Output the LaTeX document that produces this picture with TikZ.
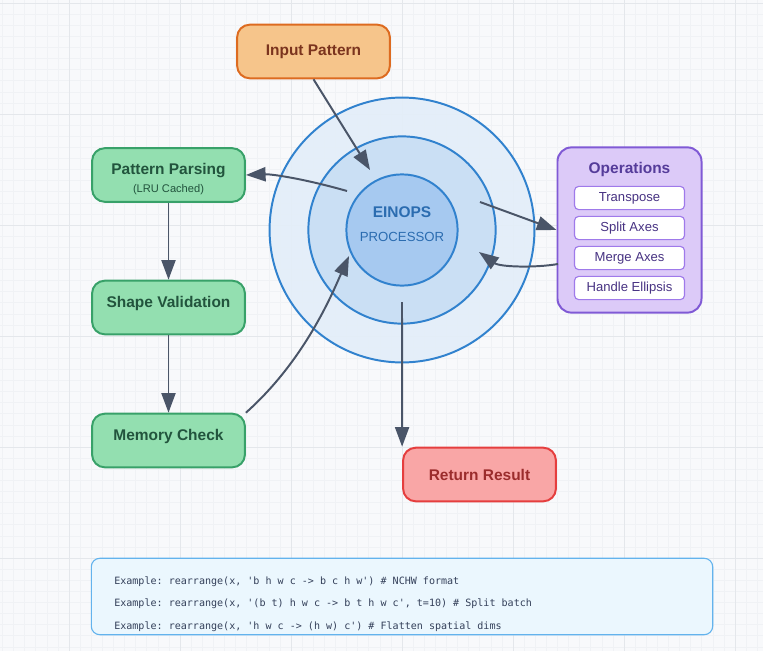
\documentclass[tikz,border=0pt]{standalone}
\usepackage{fontspec}
\setmainfont{Liberation Sans}
\setmonofont{DejaVu Sans Mono}
\usetikzlibrary{arrows.meta, positioning}
\definecolor{bgc}{HTML}{F8F9FB}
\definecolor{gridmin}{HTML}{F0F2F5}
\definecolor{gridmaj}{HTML}{E4E7EB}
\definecolor{or_fill}{HTML}{F6C58B}
\definecolor{or_draw}{HTML}{DD6B20}
\definecolor{or_text}{HTML}{7B341E}
\definecolor{gr_fill}{HTML}{93DFB0}
\definecolor{gr_draw}{HTML}{38A169}
\definecolor{gr_text}{HTML}{22543D}
\definecolor{rd_fill}{HTML}{F9A6A6}
\definecolor{rd_draw}{HTML}{E53E3E}
\definecolor{rd_text}{HTML}{9B2C2C}
\definecolor{pu_fill}{HTML}{DCCAF8}
\definecolor{pu_draw}{HTML}{805AD5}
\definecolor{pu_text}{HTML}{553C9A}
\definecolor{pu_item}{HTML}{9F7AEA}
\definecolor{ring_draw}{HTML}{3182CE}
\definecolor{ring_a}{HTML}{E3EEF9}
\definecolor{ring_b}{HTML}{C8DEF4}
\definecolor{ring_c}{HTML}{A4C8F0}
\definecolor{core_text}{HTML}{2B6CB0}
\definecolor{arrow_c}{HTML}{4A5568}
\definecolor{ex_fill}{HTML}{EBF7FE}
\definecolor{ex_draw}{HTML}{63B3ED}
\definecolor{ex_text}{HTML}{34405A}

\begin{document}
\begin{tikzpicture}[x=0.025cm, y=-0.025cm, >={Triangle[length=14pt, width=10pt]},
      box/.style={draw, rounded corners=9pt, line width=1.4pt, align=center,
        minimum width=3.82cm, minimum height=1.34cm, inner sep=2pt,
        font=\fontsize{11}{13}\selectfont\bfseries},
      grn/.style={box, fill=gr_fill, draw=gr_draw, text=gr_text},
      lifted/.style={text height=5.5pt, text depth=5.5pt},
      ring/.style={circle, draw=ring_draw, line width=1.4pt, inner sep=0pt, fill opacity=0.92},
      opitem/.style={draw=pu_item, fill=white, rounded corners=3pt, line width=0.8pt,
        minimum width=2.75cm, minimum height=0.58cm, inner sep=0pt, text=pu_text!85!black,
        font=\fontsize{9.3}{11}\selectfont},
      flow/.style={->, line width=1.4pt, draw=arrow_c},
      code/.style={anchor=west, inner sep=0pt, text=ex_text, font=\ttfamily\fontsize{7.15}{9}\selectfont}]
    \useasboundingbox (0,0) rectangle (763,651);
    % background grid
    \fill[bgc] (0,0) rectangle (763,651);
    \foreach \k in {0,...,68} \draw[gridmin, line width=0.35pt] ({2.4+11.1*\k},0) -- ++(0,651);
    \foreach \k in {0,...,58} \draw[gridmin, line width=0.35pt] (0,{3+11.1*\k}) -- ++(763,0);
    \foreach \k in {0,...,6} \draw[gridmaj, line width=0.6pt] ({69+111*\k},0) -- ++(0,651);
    \foreach \k in {0,...,5} \draw[gridmaj, line width=0.6pt] (0,{3+111*\k}) -- ++(763,0);

    % processor rings
    \node[ring, fill=ring_a, minimum size=6.62cm] (outer) at (402,230) {};
    \node[ring, fill=ring_b, minimum size=4.68cm] (mid) at (outer) {};
    \node[ring, fill=ring_c, minimum size=2.78cm] (core) at (outer) {};
    \node[align=center, text=core_text, inner sep=0pt] (corelbl) at (402,224.5)
      {{\fontsize{11}{13}\selectfont\bfseries EINOPS}\\[5pt]{\fontsize{9.4}{11}\selectfont PROCESSOR}};

    % stages
    \node[box, fill=or_fill, draw=or_draw, text=or_text] (inp) at (313.5,51.5) {Input Pattern};
    \node[grn] (par) at (168.5,175) {\rule{0pt}{13.7pt}Pattern Parsing\\[0pt]{\fontsize{7.9}{9}\selectfont\mdseries (LRU Cached)}};
    \node[grn, lifted] (val) at (168.5,307.5) {Shape Validation};
    \node[grn, lifted] (mem) at (168.5,440.5) {Memory Check};
    \node[box, fill=rd_fill, draw=rd_draw, text=rd_text] (ret) at (479.5,474.5) {Return Result};

    % operations panel
    \node[draw=pu_draw, fill=pu_fill, rounded corners=10pt, line width=1.4pt,
      minimum width=3.6cm, minimum height=4.13cm] (ops) at (629.5,230) {};
    \node[text=pu_text, font=\fontsize{11}{13}\selectfont\bfseries] (opt) at (629.5,169) {Operations};
    \foreach \n/\t/\y in {tr/Transpose/198, sp/Split Axes/228, mg/Merge Axes/258, he/Handle Ellipsis/288}
      \node[opitem] (\n) at (629.5,\y) {\t};

    % connector end points on the rings
    \coordinate (in_tip) at (370,170);
    \coordinate (par_src) at (347,191);
    \coordinate (ops_src) at (480,202);
    \coordinate (ops_back) at (558,264);
    \coordinate (back_tip) at (479,252);
    \coordinate (mem_tip) at (349,256);
    \coordinate (out_src) at (402,302);

    \draw[flow] (inp.south) -- (in_tip);
    \draw[flow] (par_src) .. controls (305,179) and (272,174) .. (par.east);
    \draw[flow] (ops_src) -- (ops.west);
    \draw[flow] (ops_back) .. controls (535,268) and (500,267) .. (back_tip);
    \foreach \x/\y in {par/val, val/mem} \draw[flow] (\x.south) -- (\y.north);
    \draw[flow] (mem.north east) .. controls (305,360) and (332,294) .. (mem_tip);
    \draw[flow] (out_src) -- (ret.north west);

    % usage examples
    \node[draw=ex_draw, fill=ex_fill, rounded corners=6pt, line width=0.8pt,
      minimum width=15.53cm, minimum height=1.91cm] (ex) at (402,596.5) {};
    \node[code] (ex1) at (114,582) {Example: rearrange(x, 'b h w c -> b c h w') \# NCHW format};
    \node[code] (ex2) at (114,604) {Example: rearrange(x, '(b t) h w c -> b t h w c', t=10) \# Split batch};
    \node[code] (ex3) at (114,627) {Example: rearrange(x, 'h w c -> (h w) c') \# Flatten spatial dims};
  \end{tikzpicture}
\end{document}
